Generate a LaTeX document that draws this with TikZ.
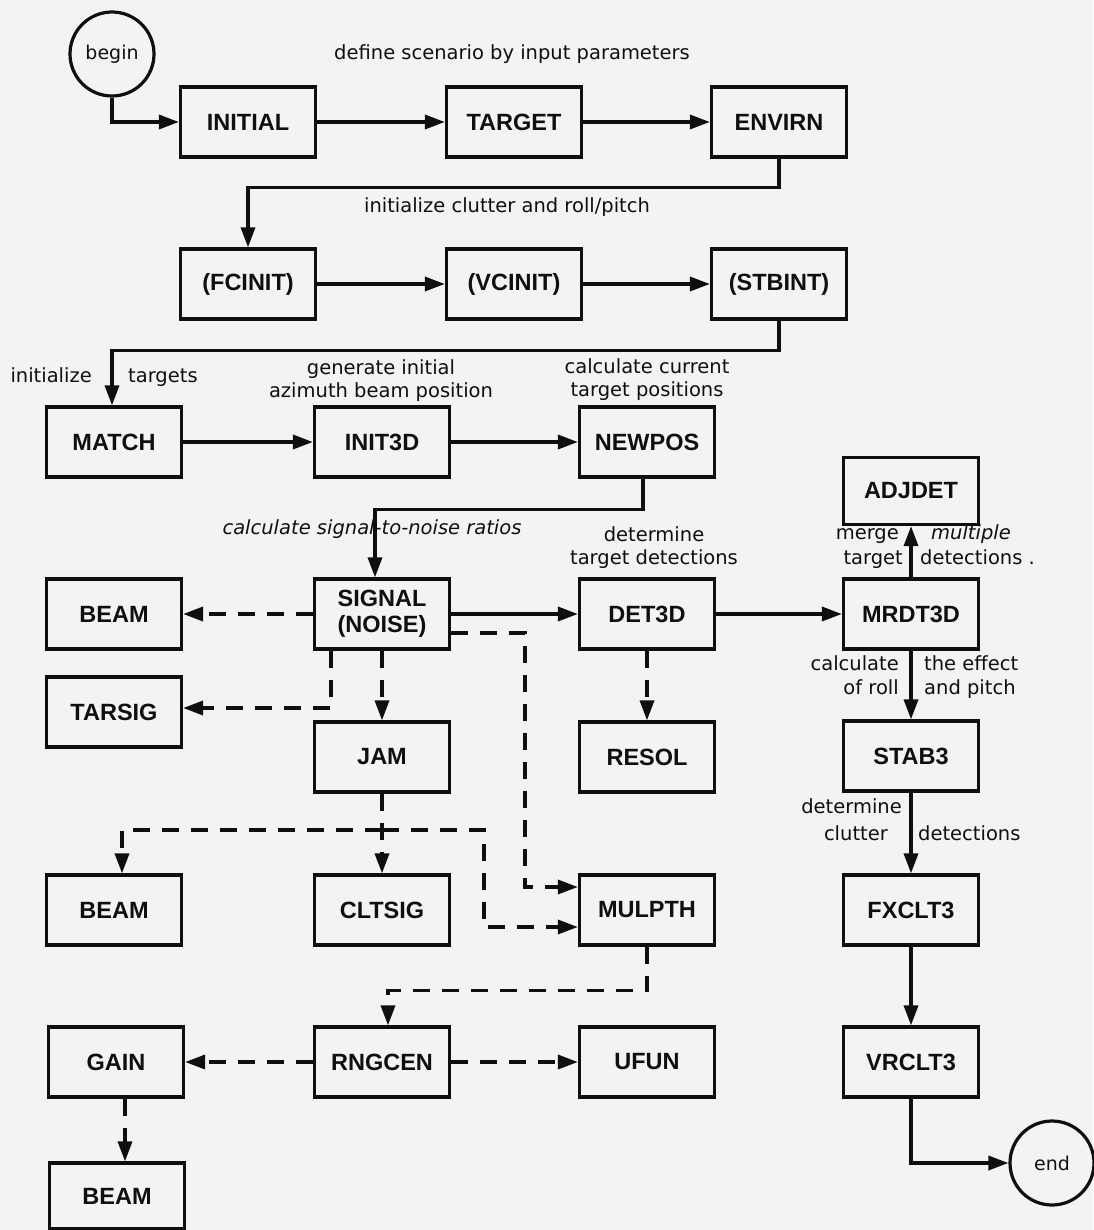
\documentclass[tikz,border=0pt]{standalone}
\usepackage{fontspec}
\setmainfont{DejaVu Sans}
\newfontfamily\boxfont{Liberation Sans}
\usetikzlibrary{arrows.meta}
\definecolor{paper}{RGB}{243,243,241}
\definecolor{ink}{RGB}{15,15,15}
\begin{document}
\begin{tikzpicture}[x=1pt,y=-1pt,
  proc/.style={draw=ink,line width=3.2pt,minimum width=135pt,minimum height=70pt,inner sep=2pt,
    font=\boxfont\bfseries\fontsize{23.5}{26}\selectfont,align=center,text=ink},
  term/.style={circle,draw=ink,line width=3.2pt,minimum size=84pt,inner sep=0pt,
    font=\fontsize{19}{21}\selectfont,text=ink},
  ann/.style={font=\fontsize{19.5}{23}\selectfont,inner sep=0pt,align=center,text=ink},
  annit/.style={ann,font=\fontsize{19.5}{23}\selectfont\itshape},
  flow/.style={draw=ink,line width=3.4pt,-{Triangle[length=20pt,width=14pt]}},
  dflow/.style={flow,dash pattern=on 17pt off 12pt},
]
\fill[paper] (0,0) rectangle (1093,1230);
\useasboundingbox (0,0) rectangle (1093,1230);

% nodes
\node[term] (begin) at (112,54) {begin};
\node[proc] (initial) at (248,122) {INITIAL};
\node[proc] (target) at (514,122) {TARGET};
\node[proc] (envirn) at (779,122) {ENVIRN};
\node[proc] (fcinit) at (248,284) {(FCINIT)};
\node[proc] (vcinit) at (514,284) {(VCINIT)};
\node[proc] (stbint) at (779,284) {(STBINT)};
\node[proc] (match) at (114,442) {MATCH};
\node[proc] (init3d) at (382,442) {INIT3D};
\node[proc] (newpos) at (647,442) {NEWPOS};
\node[proc,minimum height=67pt] (adjdet) at (911,491) {ADJDET};
\node[proc] (beam1) at (114,614) {BEAM};
\node[proc] (signal) at (382,614) {SIGNAL\\(NOISE)};
\node[proc] (det3d) at (647,614) {DET3D};
\node[proc] (mrdt3d) at (911,614) {MRDT3D};
\node[proc] (tarsig) at (114,712) {TARSIG};
\node[proc] (jam) at (382,757) {JAM};
\node[proc] (resol) at (647,757) {RESOL};
\node[proc] (stab3) at (911,756) {STAB3};
\node[proc] (beam2) at (114,910) {BEAM};
\node[proc] (cltsig) at (382,910) {CLTSIG};
\node[proc] (mulpth) at (647,910) {MULPTH};
\node[proc] (fxclt3) at (911,910) {FXCLT3};
\node[proc] (gain) at (116,1062) {GAIN};
\node[proc] (rngcen) at (382,1062) {RNGCEN};
\node[proc] (ufun) at (647,1062) {UFUN};
\node[proc] (vrclt3) at (911,1062) {VRCLT3};
\node[proc,minimum height=66pt] (beam3) at (117,1196) {BEAM};
\node[term] (end) at (1052,1163) {end};

% labels
\node[ann,anchor=mid] (l1) at (512,57) {define scenario by input parameters};
\node[ann,anchor=mid] (l2) at (507,210) {initialize clutter and roll/pitch};
\node[ann,anchor=mid east] (l3a) at (92,380) {initialize};
\node[ann,anchor=mid west] (l3b) at (128,380) {targets};
\node[ann] (l4) at (381,381) {generate initial\\azimuth beam position};
\node[ann] (l5) at (647,380) {calculate current\\target positions};
\node[annit,anchor=mid] (l6) at (372,532) {calculate signal-to-noise ratios};
\node[ann] (l7) at (654,548) {determine\\target detections};
\node[ann,anchor=mid east] (l8a) at (899,537) {merge};
\node[annit,anchor=mid west] (l8b) at (931,537) {multiple};
\node[ann,anchor=mid east] (l8c) at (903,562) {target};
\node[ann,anchor=mid west] (l8d) at (920,562) {detections .};
\node[ann,anchor=mid east] (l9a) at (899,668) {calculate};
\node[ann,anchor=mid west] (l9b) at (924,668) {the effect};
\node[ann,anchor=mid east] (l9c) at (899,692) {of roll};
\node[ann,anchor=mid west] (l9d) at (924,692) {and pitch};
\node[ann,anchor=mid east] (l10a) at (902,811) {determine};
\node[ann,anchor=mid east] (l10b) at (888,838) {clutter};
\node[ann,anchor=mid west] (l10c) at (918,838) {detections};

% solid connectors
\draw[flow] (begin.south) |- (initial.west);
\draw[flow] (initial) -- (target);
\draw[flow] (target) -- (envirn);
\draw[flow] (envirn.south) -- ++(0,29) -| (fcinit.north);
\draw[flow] (fcinit) -- (vcinit);
\draw[flow] (vcinit) -- (stbint);
\draw[flow] (stbint.south) -- ++(0,30) -| ([xshift=-2pt]match.north);
\draw[flow] (match) -- (init3d);
\draw[flow] (init3d) -- (newpos);
\draw[flow] ([xshift=-4pt]newpos.south) -- ++(0,31) -| ([xshift=-7pt]signal.north);
\draw[flow] (signal) -- (det3d);
\draw[flow] (det3d) -- (mrdt3d);
\draw[flow] (mrdt3d) -- (adjdet);
\draw[flow] (mrdt3d) -- (stab3);
\draw[flow] (stab3) -- (fxclt3);
\draw[flow] (fxclt3) -- (vrclt3);
\draw[flow] (vrclt3.south) |- (end.west);

% dashed connectors
\draw[dflow] (signal) -- (beam1);
\draw[dflow] ([xshift=-51pt]signal.south) |- ([yshift=4pt]tarsig.east);
\draw[dflow] (signal) -- (jam);
\draw[dflow] ([yshift=-19pt]signal.east) -| ([xshift=-53pt,yshift=23pt]mulpth.west) -- ([yshift=23pt]mulpth.west);
\coordinate (jj) at (382,830);
\draw[dflow] (jam) -- (cltsig);
\draw[dflow] (jj) -| ([xshift=8pt]beam2.north);
\draw[dflow] (jj) -| ([xshift=-94pt,yshift=-17pt]mulpth.west) -- ([yshift=-17pt]mulpth.west);
\draw[dflow] (det3d) -- (resol);
\draw[dflow] (mulpth.south) -- ++(0,44) -| ([xshift=6pt]rngcen.north);
\draw[dflow] (rngcen) -- (gain);
\draw[dflow] (rngcen) -- (ufun);
\draw[dflow] ([xshift=9pt]gain.south) -- ([xshift=8pt]beam3.north);
\end{tikzpicture}
\end{document}
